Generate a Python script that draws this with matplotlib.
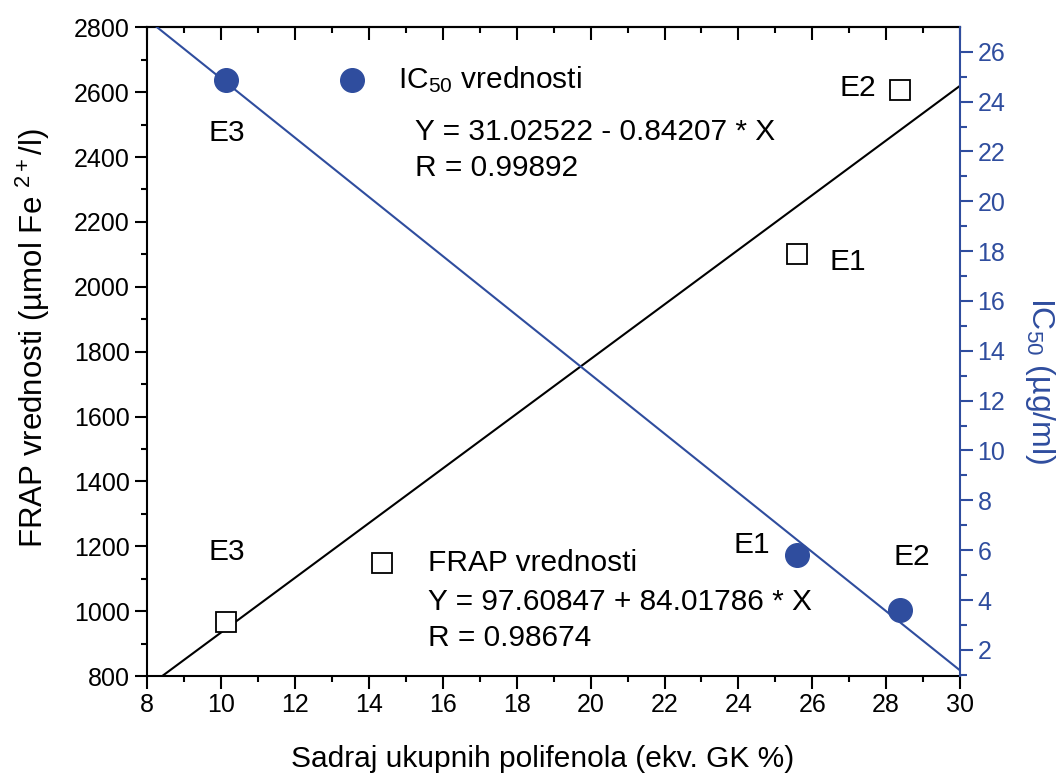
import numpy as np
import matplotlib
matplotlib.use("Agg")
import matplotlib.pyplot as plt
from matplotlib.ticker import MultipleLocator

plt.rcParams['font.family'] = ['Liberation Sans', 'DejaVu Sans']
plt.rcParams['mathtext.fontset'] = 'custom'
plt.rcParams['mathtext.rm'] = 'Liberation Sans'
plt.rcParams['mathtext.it'] = 'Liberation Sans'

# ---- data ----
samples = ["E1", "E2", "E3"]
polyphenols = [25.6, 28.37, 10.12]       # Sadraj ukupnih polifenola (ekv. GK %)
frap = [2101, 2608, 967]                 # FRAP (umol Fe2+/l)
ic50 = [5.81, 3.61, 24.87]               # IC50 (ug/ml)

frap_eq = ["FRAP vrednosti", "Y = 97.60847 + 84.01786 * X", "R = 0.98674"]
ic50_eq = ["IC$_{50}$ vrednosti", "Y = 31.02522 - 0.84207 * X", "R = 0.99892"]

blue = '#2f4d9e'

fig = plt.figure(figsize=(10.62, 7.74), dpi=100)
ax = fig.add_axes([0.1387, 0.1266, 0.904 - 0.1387, 0.9647 - 0.1266])
ax2 = ax.twinx()

xmin, xmax = 8, 30
ax.set_xlim(xmin, xmax)
ax.set_ylim(800, 2800)
ax2.set_ylim(0.95, 26.98)

# fits
xs = np.array([xmin, xmax])
pf = np.polyfit(polyphenols, frap, 1)
pi = np.polyfit(polyphenols, ic50, 1)
ax.plot(xs, np.polyval(pf, xs), color='black', lw=1.5, zorder=2)
ax.plot(polyphenols, frap, ls='none', marker='s', ms=14.5, mfc='white',
        mec='black', mew=1.3, zorder=3)
ax2.plot(xs, np.polyval(pi, xs), color=blue, lw=1.5, zorder=2)
ax2.plot(polyphenols, ic50, ls='none', marker='o', ms=17, color=blue, zorder=3)

fs_ann = 21.5
# sample labels
ax.text(10.16, 2474, "E3", fontsize=fs_ann, ha='center', va='center')
ax.text(27.24, 2612, "E2", fontsize=fs_ann, ha='center', va='center')
ax.text(26.97, 2076, "E1", fontsize=fs_ann, ha='center', va='center')
ax.text(10.16, 1182, "E3", fontsize=fs_ann, ha='center', va='center')
ax.text(24.37, 1204, "E1", fontsize=fs_ann, ha='center', va='center')
ax.text(28.7, 1167, "E2", fontsize=fs_ann, ha='center', va='center')

# legend-like annotations (axes fraction coords)
L, W, T, H = 147.3, 812.7, 27.3, 648.7
def axf(px, py):
    return ((px - L) / W, 1 - (py - T) / H)

ax.plot(*axf(352, 80), transform=ax.transAxes, marker='o', ms=17, color=blue,
        clip_on=False)
ax.text(*axf(398, 80), ic50_eq[0], transform=ax.transAxes, fontsize=fs_ann,
        ha='left', va='center')
ax.text(*axf(415, 132), ic50_eq[1], transform=ax.transAxes, fontsize=fs_ann,
        ha='left', va='center')
ax.text(*axf(415, 168), ic50_eq[2], transform=ax.transAxes, fontsize=fs_ann,
        ha='left', va='center')

ax.plot(*axf(382, 563), transform=ax.transAxes, marker='s', ms=14.5, mfc='white',
        mec='black', mew=1.3, clip_on=False)
ax.text(*axf(428, 563), frap_eq[0], transform=ax.transAxes, fontsize=fs_ann,
        ha='left', va='center')
ax.text(*axf(428, 602), frap_eq[1], transform=ax.transAxes, fontsize=fs_ann,
        ha='left', va='center')
ax.text(*axf(428, 638), frap_eq[2], transform=ax.transAxes, fontsize=fs_ann,
        ha='left', va='center')

# ticks
ax.xaxis.set_major_locator(MultipleLocator(2))
ax.xaxis.set_minor_locator(MultipleLocator(1))
ax.yaxis.set_major_locator(MultipleLocator(200))
ax.yaxis.set_minor_locator(MultipleLocator(100))
ax2.yaxis.set_major_locator(MultipleLocator(2))
ax2.yaxis.set_minor_locator(MultipleLocator(1))

ax.tick_params(axis='both', which='major', labelsize=18, length=9, width=1.5,
               direction='out', top=False, right=False)
ax.tick_params(axis='both', which='minor', length=4, width=1.5,
               direction='out', top=False, right=False)
ax2.tick_params(axis='y', which='major', labelsize=18, length=9, width=1.5,
                colors=blue, direction='out')
ax2.tick_params(axis='y', which='minor', length=5, width=1.5, colors=blue,
                direction='out')

secx = ax.secondary_xaxis('top')
secx.xaxis.set_major_locator(MultipleLocator(2))
secx.xaxis.set_minor_locator(MultipleLocator(1))
secx.tick_params(which='major', direction='in', length=9, width=1.5, labeltop=False)
secx.tick_params(which='minor', direction='in', length=4, width=1.5)
secx.spines['top'].set_linewidth(1.5)

for s in ax.spines.values():
    s.set_linewidth(1.5)
ax.spines['right'].set_visible(False)
for name in ['left', 'top', 'bottom']:
    ax2.spines[name].set_visible(False)
ax2.spines['right'].set_color(blue)
ax2.spines['right'].set_linewidth(1.5)

ax.set_xlabel("Sadraj ukupnih polifenola (ekv. GK %)", fontsize=21.5, labelpad=20)
ax.xaxis.label.set_x(0.486)
ax.set_ylabel("FRAP vrednosti (µmol Fe $^{2+}$/l)", fontsize=22.5, labelpad=16)
ax.yaxis.label.set_y(0.52)
ax2.set_ylabel("IC$_{50}$ (µg/ml)", fontsize=23, color=blue, rotation=270,
               labelpad=37)
ax2.yaxis.label.set_y(0.455)

fig.savefig("out.png", dpi=100)
